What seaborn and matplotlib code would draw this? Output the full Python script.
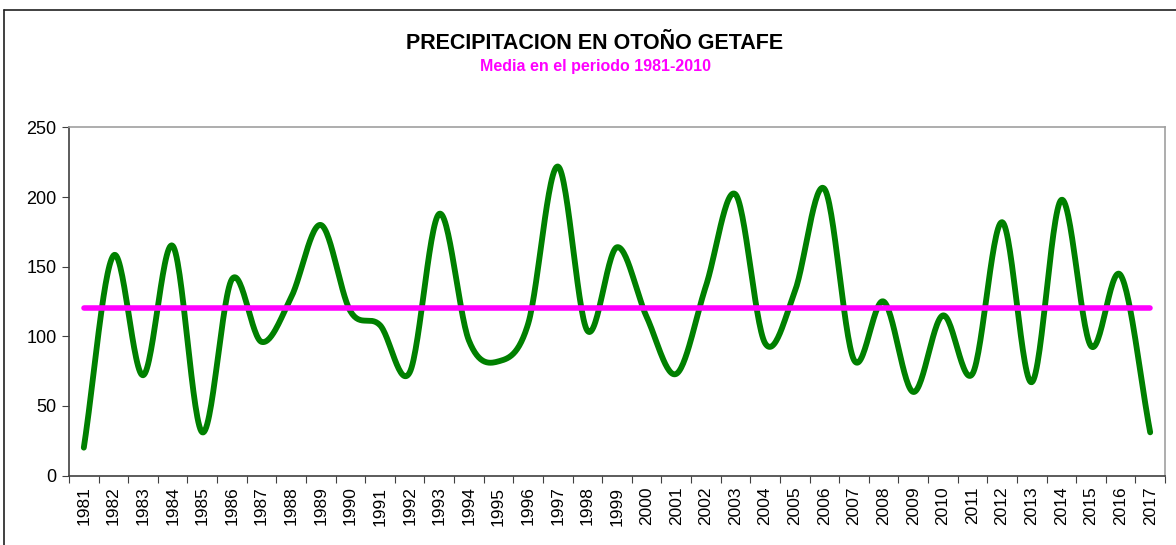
import numpy as np
import pandas as pd
import matplotlib
matplotlib.use('Agg')
import matplotlib.pyplot as plt
import seaborn as sns
from matplotlib.lines import Line2D

# Datos: precipitación de otoño en Getafe (mm)
years = list(range(1981, 2018))
precip = [20, 158, 72, 165, 31, 141, 96, 128, 180, 118,
          108, 74, 188, 97, 82, 109, 222, 104, 164, 114,
          73, 136, 202, 95, 132, 206, 83, 125, 60, 115,
          73, 182, 67, 198, 93, 144, 31]
media = 120  # media 1981-2010

df = pd.DataFrame({'year': years, 'precip': precip})
df['pos'] = np.arange(len(df))


def suavizar(x, y, n=30):
    # curva suavizada tipo Excel (Catmull-Rom) para dibujar la línea
    x = np.asarray(x, float)
    y = np.asarray(y, float)
    px = np.concatenate([[2 * x[0] - x[1]], x, [2 * x[-1] - x[-2]]])
    py = np.concatenate([[2 * y[0] - y[1]], y, [2 * y[-1] - y[-2]]])
    t = np.linspace(0, 1, n, endpoint=False)
    xs, ys = [], []
    for i in range(1, len(px) - 2):
        for p, out in ((px, xs), (py, ys)):
            p0, p1, p2, p3 = p[i - 1], p[i], p[i + 1], p[i + 2]
            out.extend(0.5 * (2 * p1 + (-p0 + p2) * t
                              + (2 * p0 - 5 * p1 + 4 * p2 - p3) * t ** 2
                              + (-p0 + 3 * p1 - 3 * p2 + p3) * t ** 3))
    xs.append(x[-1])
    ys.append(y[-1])
    return np.array(xs), np.array(ys)


sns.set_style('white')
plt.rcParams['font.family'] = ['Liberation Sans', 'DejaVu Sans']
plt.rcParams['text.color'] = 'black'
plt.rcParams['xtick.color'] = 'black'
plt.rcParams['ytick.color'] = 'black'

fig = plt.figure(figsize=(11.76, 5.45), dpi=100)
ax = fig.add_axes([69 / 1176, 69.5 / 545, 1096 / 1176, 348 / 545])

xs, ys = suavizar(df['pos'], df['precip'])
sns.lineplot(x=xs, y=ys, sort=False, color='#008000', linewidth=4.2,
             ax=ax, solid_capstyle='round')
sns.lineplot(x=df['pos'], y=[media] * len(df), color='#FF00FF',
             linewidth=4, ax=ax, solid_capstyle='round')

ax.set_xlim(-0.5, len(df) - 0.5)
ax.set_ylim(0, 250)
ax.set_yticks(range(0, 251, 50))
ax.tick_params(axis='y', labelsize=13, length=5, direction='out',
               left=True, color='#404040', labelcolor='black', pad=4)

# eje de categorías: marcas entre años, etiquetas centradas
ax.set_xticks(np.arange(-0.5, len(df), 1))
ax.set_xticklabels([])
ax.set_xticks(df['pos'], minor=True)
ax.set_xticklabels([str(y) for y in years], minor=True, rotation=90,
                   fontsize=12.5)
ax.tick_params(axis='x', which='major', length=5, direction='out',
               bottom=True, color='#404040')
ax.tick_params(axis='x', which='minor', length=0, pad=8,
               labelcolor='black')
ax.set_xlabel('')
ax.set_ylabel('')

for s in ['left', 'bottom']:
    ax.spines[s].set_color('#404040')
    ax.spines[s].set_linewidth(1.2)
for s in ['top', 'right']:
    ax.spines[s].set_color('#a0a0a0')
    ax.spines[s].set_linewidth(1.2)

fig.text(595 / 1176, 1 - 43 / 545, 'PRECIPITACION EN OTOÑO GETAFE',
         ha='center', va='center', fontsize=15.5, fontweight='bold',
         color='black')
fig.text(595 / 1176, 1 - 66 / 545, 'Media en el periodo 1981-2010',
         ha='center', va='center', fontsize=11.5, fontweight='bold',
         color='#FF00FF')

# borde del gráfico
fig.add_artist(Line2D([3.5 / 1176, 1], [1 - 9.5 / 545, 1 - 9.5 / 545],
                      transform=fig.transFigure, color='#202020', lw=1.2))
fig.add_artist(Line2D([3.5 / 1176, 3.5 / 1176], [0, 1 - 9.5 / 545],
                      transform=fig.transFigure, color='#202020', lw=1.2))

plt.savefig('out.png', dpi=100)
